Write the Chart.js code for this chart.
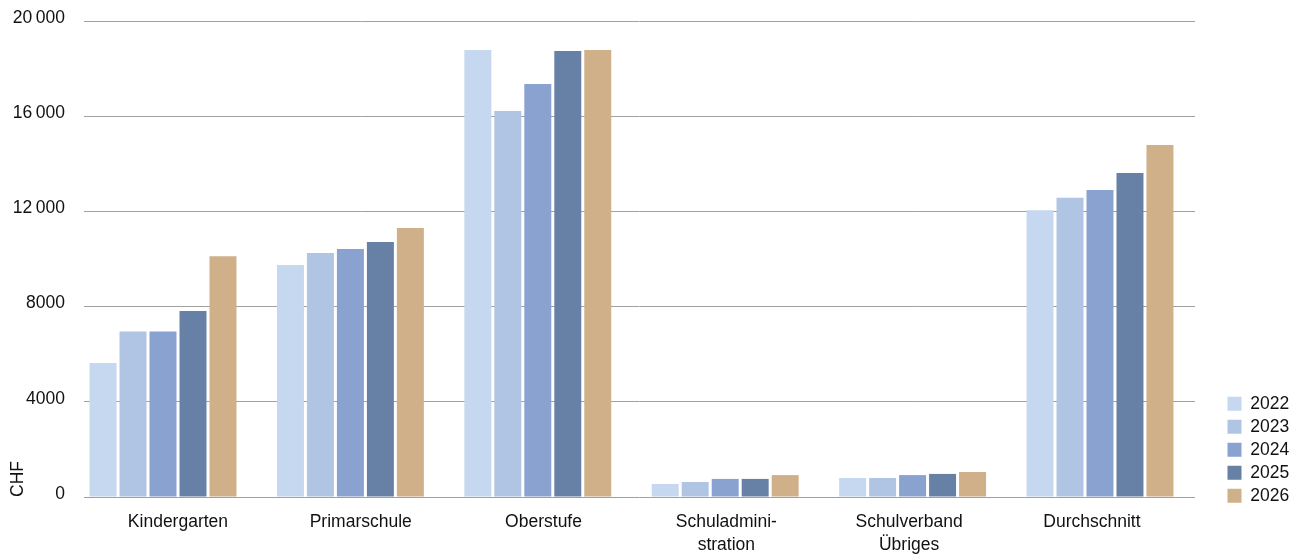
<!DOCTYPE html>
<html>
<head>
<meta charset="utf-8">
<script src="https://cdn.jsdelivr.net/npm/chart.js@4"></script>
<style>
  html, body { margin: 0; padding: 0; background: #fff; }
  #wrap { width: 1302px; height: 555px; position: relative; }
</style>
</head>
<body>
<div id="wrap"><canvas id="costChart"></canvas></div>
<script>
const categories = ['Kindergarten', 'Primarschule', 'Oberstufe', ['Schuladmini-', 'stration'], ['Schulverband', 'Übriges'], 'Durchschnitt'];
const years = ['2022', '2023', '2024', '2025', '2026'];
const v2022 = [5630, 9750, 18780, 550, 800, 12050];
const v2023 = [6950, 10250, 16220, 630, 800, 12570];
const v2024 = [6950, 10420, 17350, 760, 920, 12900];
const v2025 = [7820, 10710, 18740, 760, 970, 13610];
const v2026 = [10120, 11300, 18780, 920, 1050, 14790];
const yTicks = [0, 4000, 8000, 12000, 16000, 20000];
const colors = ['#c5d8ef', '#b0c5e4', '#89a2d0', '#6781a6', '#cfb089'];

const FONT = 'Liberation Sans, Arial, Helvetica, sans-serif';
const seriesList = [v2022, v2023, v2024, v2025, v2026];

function fmt(v) {
    return v >= 10000 ? String(v).replace(/(\d)(?=(\d{3})+$)/g, '$1\u2009') : String(v);
}

// integer ticks, one per category
const catTicks = s => { s.ticks = categories.map((_, i) => ({ value: i })); };

// legend sits right of the plot, with a little room before the boxes
const legendNudge = {
    id: 'legendNudge',
    afterInit(chart) {
        const lg = chart.legend;
        const fit = lg.fit;
        const draw = lg.draw;
        lg.fit = function () { fit.call(this); this.width = 107; };
        lg.draw = function () {
            this.left += 27; this.top += 13; this.bottom += 13;
            draw.call(this);
            this.left -= 27; this.top -= 13; this.bottom -= 13;
        };
    }
};

const ctx = document.getElementById('costChart').getContext('2d');
new Chart(ctx, {
    type: 'bar',
    data: {
        datasets: years.map((y, i) => ({
            label: y,
            data: seriesList[i].map((v, k) => ({ x: k, y: v })),
            backgroundColor: colors[i],
            borderWidth: 0,
            xAxisID: 'xb',
            categoryPercentage: 0.8,
            barPercentage: 0.9
        }))
    },
    options: {
        responsive: true,
        maintainAspectRatio: false,
        animation: false,
        layout: { autoPadding: false, padding: { left: 0, right: 0, top: 21, bottom: 0 } },
        plugins: {
            legend: {
                position: 'right',
                align: 'end',
                fullSize: false,
                labels: {
                    boxWidth: 14,
                    boxHeight: 14,
                    padding: 5.5,
                    color: '#111',
                    font: { family: FONT, size: 17.5 }
                }
            },
            tooltip: { enabled: false }
        },
        scales: {
            xb: {
                type: 'linear',
                display: false,
                offset: false,
                min: -0.4216,
                max: 5.507,
                afterBuildTicks: catTicks
            },
            x: {
                type: 'linear',
                position: 'bottom',
                offset: false,
                min: -0.514,
                max: 5.564,
                afterBuildTicks: catTicks,
                afterFit: s => { s.height = 58; },
                grid: { display: false, drawTicks: false },
                border: { display: false },
                ticks: {
                    autoSkip: false,
                    maxRotation: 0,
                    padding: 14,
                    color: '#111',
                    font: { family: FONT, size: 17.5, lineHeight: 1.3 },
                    callback: v => categories[v]
                }
            },
            y: {
                min: 0,
                max: 20000,
                afterBuildTicks: s => { s.ticks = yTicks.map(v => ({ value: v })); },
                afterFit: s => { s.width = 84; },
                grid: { color: '#a0a0a0', lineWidth: 1, drawTicks: true, tickLength: 19, tickColor: 'rgba(0,0,0,0)' },
                border: { display: false },
                ticks: {
                    padding: 0,
                    labelOffset: -3,
                    color: '#111',
                    font: { family: FONT, size: 17.5 },
                    callback: v => fmt(v)
                },
                title: {
                    display: true,
                    text: 'CHF',
                    align: 'start',
                    color: '#111',
                    font: { family: FONT, size: 17.5 },
                    padding: { top: 8, bottom: 0 }
                }
            }
        }
    },
    plugins: [legendNudge]
});
</script>
</body>
</html>
